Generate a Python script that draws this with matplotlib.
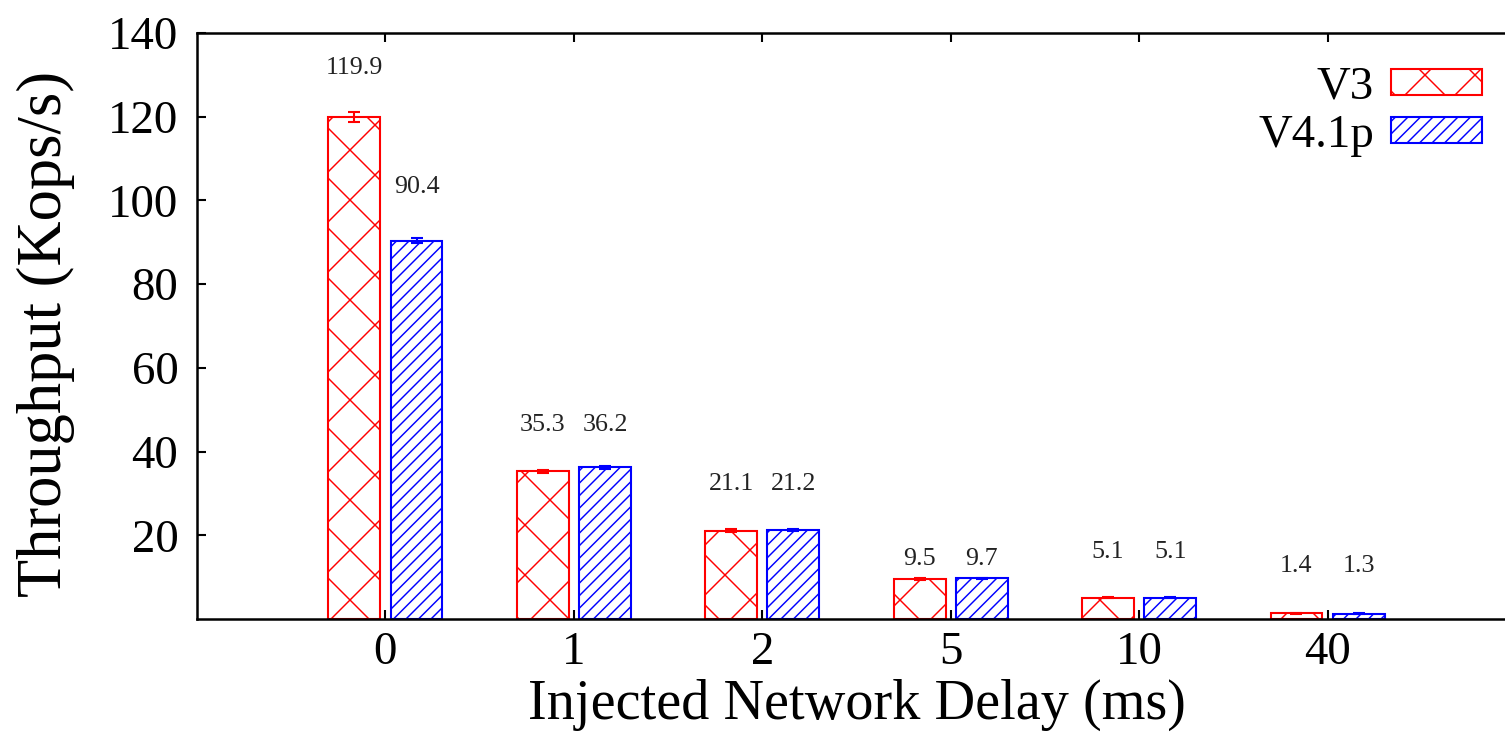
import numpy as np
import matplotlib.pyplot as plt

delays = ["0", "1", "2", "5", "10", "40"]
v3 = [119.9, 35.3, 21.1, 9.5, 5.1, 1.4]
v41p = [90.4, 36.2, 21.2, 9.7, 5.1, 1.3]
v3_err = [1.2, 0.3, 0.3, 0.2, 0.2, 0.1]
v41p_err = [0.6, 0.3, 0.2, 0.2, 0.2, 0.1]
series = ["V3", "V4.1p"]

# how far above the bar each value label sits (data units)
pad_v3 = [11.7, 11.0, 11.1, 4.8, 10.9, 11.3]
pad_v41p = [12.8, 10.1, 11.0, 4.6, 10.9, 11.4]

plt.rcParams['font.family'] = ['Liberation Serif', 'DejaVu Serif']
plt.rcParams['hatch.linewidth'] = 0.7

fig = plt.figure(figsize=(1505/150, 736/150), dpi=150)
ax = fig.add_axes([197/1505, 117/736, 1319/1505, 586/736])

x = np.arange(len(delays))
w = 0.275
off = 0.165

ax.bar(x - off, v3, w, color='white', edgecolor='red', hatch='x',
       linewidth=1.0, label=series[0])
ax.bar(x + off, v41p, w, color='white', edgecolor='blue', hatch='////',
       linewidth=1.0, label=series[1])
ax.errorbar(x - off, v3, yerr=v3_err, fmt='none', ecolor='red',
            elinewidth=1.0, capsize=3, capthick=1.0)
ax.errorbar(x + off, v41p, yerr=v41p_err, fmt='none', ecolor='blue',
            elinewidth=1.0, capsize=3, capthick=1.0)

for i in range(len(delays)):
    ax.text(x[i] - off, v3[i] + pad_v3[i], f"{v3[i]:.1f}", ha='center',
            va='center', fontsize=12.5, color='#222222')
    ax.text(x[i] + off, v41p[i] + pad_v41p[i], f"{v41p[i]:.1f}", ha='center',
            va='center', fontsize=12.5, color='#222222')

ax.set_xlim(-1, 6)
ax.set_ylim(0, 140)
ax.set_xticks(x)
ax.set_xticklabels(delays)
ax.set_yticks(range(20, 141, 20))
ax.tick_params(direction='in', top=True, right=True, length=4.5,
               width=1.0, labelsize=22.5)
ax.tick_params(axis='y', pad=9)
ax.tick_params(axis='x', pad=6)
for s in ax.spines.values():
    s.set_linewidth(1.2)

fig.text(46/1505, 1 - 334/736, "Throughput (Kops/s)", rotation=90,
         ha='center', va='center', fontsize=30)
fig.text(857/1505, 1 - 705/736, "Injected Network Delay (ms)",
         ha='center', va='center', fontsize=27)

ax.legend(loc='upper right', bbox_to_anchor=(1482/1505, 1 - 66/736),
          bbox_transform=fig.transFigure, frameon=False, markerfirst=False,
          fontsize=22.5, handlelength=1.95, handleheight=0.47,
          handletextpad=0.35, labelspacing=0.12, borderpad=0,
          borderaxespad=0)

fig.savefig("out.png", dpi=150)
